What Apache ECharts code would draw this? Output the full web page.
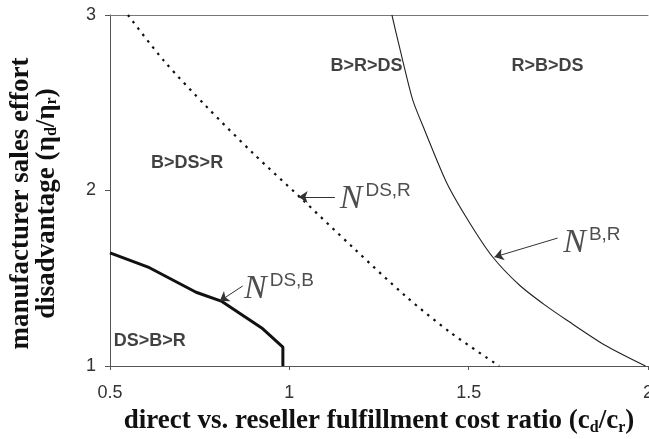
<!DOCTYPE html>
<html>
<head>
<meta charset="utf-8">
<script src="https://cdn.jsdelivr.net/npm/echarts@6/dist/echarts.min.js"></script>
<style>
  html, body { margin: 0; padding: 0; background: #fff; }
  #chart { width: 649px; height: 439px; }
</style>
</head>
<body>
<div id="chart"></div>
<script>
// boundary curves: [cost ratio, effort disadvantage]
const boundaryDSB = [[0.5, 1.645], [0.61, 1.56], [0.74, 1.42], [0.81, 1.37], [0.923, 1.217], [0.982, 1.108], [0.982, 1.0]];
const boundaryDSR = [[0.55, 3.0], [0.65, 2.74], [0.77, 2.476], [0.9, 2.21], [1.029, 1.963], [1.18, 1.67], [1.327, 1.393], [1.45, 1.19], [1.585, 1.0]];
const boundaryBR = [[1.286, 3.0], [1.308, 2.81], [1.344, 2.516], [1.377, 2.345], [1.439, 2.043], [1.503, 1.815], [1.567, 1.621], [1.642, 1.46], [1.712, 1.348], [1.773, 1.262], [1.879, 1.12], [1.993, 1.0]];

const xTicks = [0.5, 1, 1.5, 2];
const yTicks = [1, 2, 3];

// region labels and curve annotations
const regionNames = ["B>R>DS", "R>B>DS", "B>DS>R", "DS>B>R"];
const regionPos = [[1.215, 2.71], [1.72, 2.71], [0.715, 2.155], [0.611, 1.14]];
const curveNames = ["DS,R", "DS,B", "B,R"];
const curveLabelPos = [[1.135, 1.95], [0.868, 1.44], [1.758, 1.7]];
const arrowFrom = [[1.127, 1.963], [0.87, 1.456], [1.748, 1.729]];
const arrowTo = [[1.026, 1.963], [0.806, 1.37], [1.572, 1.621]];

const chart = echarts.init(document.getElementById("chart"));

const serif = "Liberation Serif";
const sans = "Liberation Sans";

chart.setOption({
  animation: false,
  grid: { left: 110, right: 1, top: 15, bottom: 73, outerBoundsMode: "none" },
  xAxis: [
    {
      type: "value",
      min: 0.5,
      max: 2,
      interval: 0.5,
      splitLine: { show: false },
      axisLine: { lineStyle: { color: "#555", width: 1 } },
      axisTick: { length: 4, lineStyle: { color: "#555" } },
      axisLabel: {
        color: "#333",
        fontFamily: sans,
        fontSize: 18,
        margin: 18,
        formatter: (v) => (xTicks.includes(v) ? String(v) : ""),
      },
      name: "{t|direct vs. reseller fulfillment cost ratio (c}{s|d}{t|/c}{s|r}{t|)}",
      nameLocation: "middle",
      nameGap: 40,
      nameMoveOverlap: false,
      nameTextStyle: {
        rich: {
          t: { fontFamily: serif, fontWeight: "bold", fontSize: 27, color: "#111", lineHeight: 30 },
          s: { fontFamily: serif, fontWeight: "bold", fontSize: 16, color: "#111", lineHeight: 30, verticalAlign: "bottom" },
        },
      },
    },
    {
      type: "value",
      position: "top",
      min: 0.5,
      max: 2,
      axisLine: { show: true, lineStyle: { color: "#777", width: 1 } },
      axisTick: { show: false },
      axisLabel: { show: false },
      splitLine: { show: false },
    },
  ],
  yAxis: {
    type: "value",
    min: 1,
    max: 3,
    interval: 1,
    splitLine: { show: false },
    axisLine: { show: true, lineStyle: { color: "#555", width: 1 } },
    axisTick: { show: true, length: 5, lineStyle: { color: "#555" } },
    axisLabel: {
      color: "#333",
      fontFamily: sans,
      fontSize: 18,
      margin: 14,
      formatter: (v) => (yTicks.includes(v) ? String(v) : ""),
    },
    name: "{t|manufacturer sales effort}\n{t|disadvantage (η}{s|d}{t|/η}{s|r}{t|)}",
    nameLocation: "middle",
    nameRotate: 90,
    nameGap: 50,
    nameMoveOverlap: false,
    nameTextStyle: {
      padding: [0, 26, 0, 0],
      rich: {
        t: { fontFamily: serif, fontWeight: "bold", fontSize: 27, color: "#111", lineHeight: 26 },
        s: { fontFamily: serif, fontWeight: "bold", fontSize: 16, color: "#111", lineHeight: 26, verticalAlign: "bottom" },
      },
    },
  },
  series: [
    {
      type: "line",
      data: boundaryDSB,
      symbol: "none",
      lineStyle: { color: "#111", width: 3 },
      z: 3,
    },
    {
      type: "line",
      data: boundaryDSR,
      symbol: "none",
      smooth: 0.3,
      lineStyle: { color: "#111", width: 2.2, type: [2.5, 5.5] },
      z: 3,
    },
    {
      type: "line",
      data: boundaryBR,
      symbol: "none",
      smooth: 0.25,
      lineStyle: { color: "#222", width: 1.1 },
      z: 3,
      markLine: {
        silent: true,
        symbol: ["none", "arrow"],
        symbolSize: 9,
        lineStyle: { color: "#333", width: 1, type: "solid" },
        label: { show: false },
        data: arrowFrom.map((p, i) => [{ coord: p }, { coord: arrowTo[i] }]),
      },
    },
    {
      type: "scatter",
      symbolSize: 0,
      data: regionPos.map((p, i) => ({ value: p, name: regionNames[i] })),
      label: {
        show: true,
        position: "inside",
        formatter: (p) => p.name,
        fontFamily: sans,
        fontWeight: "bold",
        fontSize: 18,
        color: "#111",
      },
    },
    {
      type: "scatter",
      symbolSize: 0,
      data: curveLabelPos.map((p, i) => ({ value: p, name: curveNames[i] })),
      label: {
        show: true,
        position: "right",
        distance: 2,
        formatter: (p) => "{n|N}{s|" + p.name + "}",
        rich: {
          n: { fontFamily: serif, fontStyle: "italic", fontSize: 34, color: "#222", lineHeight: 36 },
          s: { fontFamily: sans, fontSize: 19, color: "#222", lineHeight: 36, verticalAlign: "top", padding: [0, 0, 0, 3] },
        },
      },
    },
  ],
});
</script>
</body>
</html>
